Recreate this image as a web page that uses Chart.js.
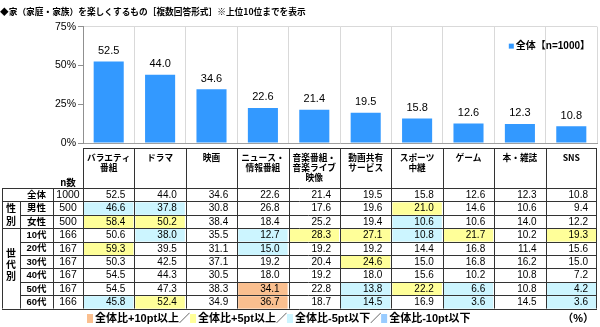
<!DOCTYPE html>
<html lang="ja">
<head>
<meta charset="utf-8">
<title>家を楽しくするもの</title>
<script src="https://cdn.jsdelivr.net/npm/chart.js@4.4.1/dist/chart.umd.min.js"></script>
<style>
  html, body { margin: 0; padding: 0; background: #fff; }
  #wrap { width: 600px; height: 327px; }
</style>
</head>
<body>
<div id="wrap"><canvas id="homeChart" width="600" height="327"></canvas></div>
<script>
// data
const chartTitle = "◆家（家庭・家族）を楽しくするもの［複数回答形式］※上位10位までを表示";
const seriesLabel = "全体【n=1000】";
const categories = [
  ["バラエティ", "番組"], ["ドラマ"], ["映画"], ["ニュース・", "情報番組"],
  ["音楽番組・", "音楽ライブ", "映像"], ["動画共有", "サービス"], ["スポーツ", "中継"],
  ["ゲーム"], ["本・雑誌"], ["SNS"]
];
const yTicks = [0, 25, 50, 75];

const totalValues = [52.5, 44.0, 34.6, 22.6, 21.4, 19.5, 15.8, 12.6, 12.3, 10.8];
const maleValues = [46.6, 37.8, 30.8, 26.8, 17.6, 19.6, 21.0, 14.6, 10.6, 9.4];
const femaleValues = [58.4, 50.2, 38.4, 18.4, 25.2, 19.4, 10.6, 10.6, 14.0, 12.2];
const age10Values = [50.6, 38.0, 35.5, 12.7, 28.3, 27.1, 10.8, 21.7, 10.2, 19.3];
const age20Values = [59.3, 39.5, 31.1, 15.0, 19.2, 19.2, 14.4, 16.8, 11.4, 15.6];
const age30Values = [50.3, 42.5, 37.1, 19.2, 20.4, 24.6, 15.0, 16.8, 16.2, 15.0];
const age40Values = [54.5, 44.3, 30.5, 18.0, 19.2, 18.0, 15.6, 10.2, 10.8, 7.2];
const age50Values = [54.5, 47.3, 38.3, 34.1, 22.8, 13.8, 22.2, 6.6, 10.8, 4.2];
const age60Values = [45.8, 52.4, 34.9, 36.7, 18.7, 14.5, 16.9, 3.6, 14.5, 3.6];

const rowLabels = ["全体", "男性", "女性", "10代", "20代", "30代", "40代", "50代", "60代"];
const rowN = [1000, 500, 500, 166, 167, 167, 167, 167, 166];
const groupLabels = ["", "性別", "世代別"];
const groupRows = [[0, 0], [1, 2], [3, 8]];
const legendTexts = ["全体比+10pt以上／", "全体比+5pt以上／", "全体比-5pt以下／", "全体比-10pt以下"];
const unitText = "（%）";

const tableRows = [totalValues, maleValues, femaleValues, age10Values, age20Values,
  age30Values, age40Values, age50Values, age60Values];

const barColor = "#3399FF";
const highlightColors = ["#FABF8F", "#FFFF99", "#CCF5FF", "#99CCFF"];
const fontFamily = "'Liberation Sans', 'Noto Sans CJK JP', sans-serif";
const jpFamily = "'Noto Sans CJK JP', sans-serif";

function cellColor(value, base) {
  const diff = Math.round((value - base) * 10) / 10;
  if (diff >= 10) return highlightColors[0];
  if (diff >= 5) return highlightColors[1];
  if (diff <= -10) return highlightColors[3];
  if (diff <= -5) return highlightColors[2];
  return null;
}

// value labels above the bars
const barLabels = {
  id: "barLabels",
  afterDatasetsDraw(chart) {
    const ctx = chart.ctx;
    const meta = chart.getDatasetMeta(0);
    ctx.save();
    ctx.font = "11px " + fontFamily;
    ctx.fillStyle = "#000";
    ctx.textAlign = "center";
    ctx.textBaseline = "bottom";
    meta.data.forEach((bar, i) => {
      ctx.fillText(totalValues[i].toFixed(1), bar.x, bar.y - 5);
    });
    ctx.restore();
  },
};

// small legend inside the plot, top right
const cornerLegend = {
  id: "cornerLegend",
  afterDraw(chart) {
    const ctx = chart.ctx;
    const area = chart.chartArea;
    ctx.save();
    ctx.font = "bold 10px " + fontFamily;
    const w = ctx.measureText(seriesLabel).width;
    const tx = area.right - 7 - w;
    const ty = area.top + 20;
    ctx.fillStyle = barColor;
    ctx.fillRect(tx - 7, ty - 3, 5, 5);
    ctx.fillStyle = "#000";
    ctx.textBaseline = "middle";
    ctx.fillText(seriesLabel, tx, ty);
    ctx.restore();
  },
};

// the answer table under the bars, columns taken from the x scale
const answerTable = {
  id: "answerTable",
  afterDraw(chart) {
    const ctx = chart.ctx;
    const x = chart.scales.x;
    const half = (x.getPixelForValue(1) - x.getPixelForValue(0)) / 2;
    const colLeft = (i) => x.getPixelForValue(i) - half;
    const tableLeft = 2, groupRight = 20, labelRight = 53;
    const right = x.right;
    const headTop = 148, bodyTop = 188, rowH = 13.4;
    const bottom = bodyTop + rowH * tableRows.length;
    const px = (v) => Math.round(v) + 0.5;

    ctx.save();
    // highlighted cells
    tableRows.forEach((row, r) => {
      if (r === 0) return;
      row.forEach((v, c) => {
        const col = cellColor(v, totalValues[c]);
        if (!col) return;
        ctx.fillStyle = col;
        ctx.fillRect(colLeft(c) + 1, bodyTop + r * rowH + 1, half * 2 - 2, rowH - 1);
      });
    });

    // grid lines
    ctx.strokeStyle = "#333";
    ctx.lineWidth = 1;
    ctx.beginPath();
    ctx.moveTo(colLeft(0), px(headTop));
    ctx.lineTo(right, px(headTop));
    for (let i = 0; i <= categories.length; i++) {
      const lx = px(i === categories.length ? right - 1 : colLeft(i));
      ctx.moveTo(lx, headTop);
      ctx.lineTo(lx, bottom);
    }
    const merged = new Set();
    groupRows.forEach(([a, b]) => { for (let r = a + 1; r <= b; r++) merged.add(r); });
    for (let r = 0; r <= tableRows.length; r++) {
      const ly = px(bodyTop + r * rowH);
      ctx.moveTo(merged.has(r) ? groupRight : tableLeft, ly);
      ctx.lineTo(right, ly);
    }
    ctx.moveTo(px(tableLeft), bodyTop);
    ctx.lineTo(px(tableLeft), bottom);
    ctx.moveTo(px(groupRight), bodyTop + rowH);
    ctx.lineTo(px(groupRight), bottom);
    ctx.moveTo(px(labelRight), bodyTop);
    ctx.lineTo(px(labelRight), bottom);
    ctx.stroke();

    // texts
    ctx.fillStyle = "#000";
    ctx.textBaseline = "middle";
    ctx.textAlign = "center";
    ctx.font = "bold 9.5px " + jpFamily;
    ctx.fillText("n数", (labelRight + colLeft(0)) / 2, 182);

    ctx.font = "bold 10px " + jpFamily;
    groupRows.forEach(([a, b], g) => {
      const chars = Array.from(groupLabels[g]);
      if (!chars.length) return;
      const cy = bodyTop + ((a + b + 1) / 2) * rowH - 4;
      const step = b > a + 1 ? 11.5 : rowH;
      chars.forEach((ch, k) => {
        ctx.fillText(ch, (tableLeft + groupRight) / 2, cy + (k - (chars.length - 1) / 2) * step + (b > a + 1 ? 0 : 4));
      });
    });

    tableRows.forEach((row, r) => {
      const cy = bodyTop + r * rowH + rowH / 2 + 0.5;
      ctx.textAlign = "center";
      ctx.font = "bold 9.5px " + fontFamily;
      ctx.fillText(rowLabels[r], (groupRight + labelRight) / 2, cy);
      ctx.font = "10.5px " + fontFamily;
      ctx.fillText(String(rowN[r]), (labelRight + colLeft(0)) / 2, cy);
      ctx.textAlign = "right";
      ctx.font = "10px " + fontFamily;
      row.forEach((v, c) => {
        ctx.fillText(v.toFixed(1), colLeft(c) + half * 2 - 9, cy);
      });
    });

    // colour key under the table
    ctx.font = "bold 11px " + fontFamily;
    ctx.textAlign = "left";
    let lx = 87;
    const ly = 319;
    legendTexts.forEach((t, i) => {
      ctx.fillStyle = highlightColors[i];
      ctx.fillRect(lx, ly - 5, 6, 9);
      ctx.fillStyle = "#000";
      ctx.fillText(t, lx + 8, ly);
      lx += 8 + ctx.measureText(t).width;
    });
    ctx.textAlign = "right";
    ctx.fillText(unitText, 594, ly);
    ctx.restore();
  },
};

const ctx = document.getElementById("homeChart").getContext("2d");
new Chart(ctx, {
  type: "bar",
  data: {
    labels: categories,
    datasets: [
      {
        label: seriesLabel,
        data: totalValues,
        backgroundColor: barColor,
        borderWidth: 0,
        barPercentage: 0.585,
        categoryPercentage: 1,
      },
    ],
  },
  plugins: [barLabels, cornerLegend, answerTable],
  options: {
    responsive: false,
    animation: false,
    layout: { padding: { left: 0, right: 3, top: 0, bottom: 140 } },
    plugins: {
      legend: { display: false },
      tooltip: { enabled: false },
      title: {
        display: true,
        text: chartTitle,
        align: "start",
        color: "#000",
        font: { family: jpFamily, size: 8.7, weight: "bold", lineHeight: 1.2 },
        padding: { top: 6.3, bottom: 9.9 },
      },
    },
    scales: {
      x: {
        offset: true,
        grid: { offset: true, color: "#d9d9d9", drawTicks: false },
        border: { color: "#a0a0a0" },
        ticks: {
          color: "#000",
          padding: 9,
          autoSkip: false,
          maxRotation: 0,
          font: { family: jpFamily, size: 8.7, weight: "bold", lineHeight: 1.2 },
        },
        afterFit: (s) => { s.height = 44; },
      },
      y: {
        min: 0,
        max: 75,
        afterBuildTicks: (s) => { s.ticks = yTicks.map((v) => ({ value: v })); },
        grid: {
          color: (c) => (c.tick && c.tick.value === 75 ? "#d9d9d9" : "rgba(0,0,0,0)"),
          tickColor: "#909090",
          tickLength: 5,
        },
        border: { color: "#909090" },
        ticks: {
          color: "#000",
          padding: 2,
          font: { family: fontFamily, size: 10.5 },
          callback: (v) => v + "%",
        },
        afterFit: (s) => { s.width = 83; },
      },
    },
  },
});
</script>
</body>
</html>
